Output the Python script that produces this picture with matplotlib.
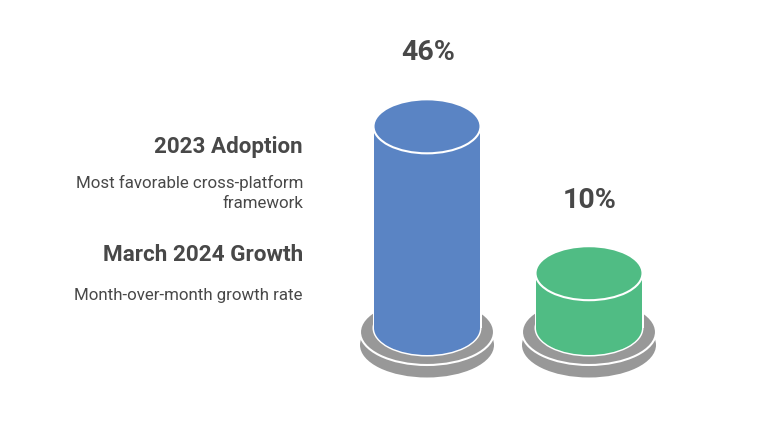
import matplotlib
matplotlib.use("Agg")
import matplotlib.pyplot as plt
from matplotlib.patches import Ellipse, Rectangle

categories = ["2023 Adoption", "March 2024 Growth"]
descriptions = ["Most favorable cross-platform\nframework", "Month-over-month growth rate"]
values = [46, 10]
value_labels = ["46%", "10%"]
colors = ["#5A84C4", "#50BC84"]

plt.rcParams["font.family"] = ["Roboto", "DejaVu Sans"]
fig = plt.figure(figsize=(7.68, 4.24), dpi=100)
ax = fig.add_axes([0, 0, 1, 1])
ax.set_xlim(0, 768)
ax.set_ylim(424, 0)
ax.axis("off")

GREY = "#989898"
TEXT = "#484848"
BASE_Y = 328
CENTERS = [427, 589]
BAR_W = 106
ELL_H = 54
PX_PER_UNIT = 4.08
PX_OFFSET = 14

for cx, v, c, lab in zip(CENTERS, values, colors, value_labels):
    top = BASE_Y - (v * PX_PER_UNIT + PX_OFFSET)
    # base plates
    ax.add_patch(Ellipse((cx, 345), 134, 65, fc=GREY, ec="none", zorder=1))
    ax.add_patch(Ellipse((cx, 332), 134, 66, fc=GREY, ec="white", lw=1.5, zorder=2))
    # cylinder body
    ax.add_patch(Ellipse((cx, BASE_Y), BAR_W + 3, ELL_H + 3, fc="white", ec="none", zorder=3))
    ax.add_patch(Rectangle((cx - BAR_W / 2 - 1.5, top), BAR_W + 3, BASE_Y - top, fc="white", ec="none", zorder=3))
    ax.add_patch(Ellipse((cx, BASE_Y), BAR_W, ELL_H, fc=c, ec="none", zorder=4))
    ax.add_patch(Rectangle((cx - BAR_W / 2, top), BAR_W, BASE_Y - top, fc=c, ec="none", zorder=4))
    # top cap
    ax.add_patch(Ellipse((cx, top), BAR_W + 1, ELL_H, fc=c, ec="white", lw=1.5, zorder=5))
    ax.text(cx + 1, top - 74 if v > 20 else top - 72.5, lab, ha="center", va="center",
            fontsize=20.5, fontweight="bold", color=TEXT, zorder=6)

RIGHT = 303
ax.text(RIGHT, 147, categories[0], ha="right", va="center", fontsize=16.1, fontweight="bold", color=TEXT)
ax.text(RIGHT, 193, descriptions[0], ha="right", va="center", fontsize=12.2, color=TEXT, linespacing=1.38)
ax.text(RIGHT, 255, categories[1], ha="right", va="center", fontsize=16.2, fontweight="bold", color=TEXT)
ax.text(RIGHT, 295.5, descriptions[1], ha="right", va="center", fontsize=12.2, color=TEXT)

fig.savefig("out.png", dpi=100, facecolor="white")
